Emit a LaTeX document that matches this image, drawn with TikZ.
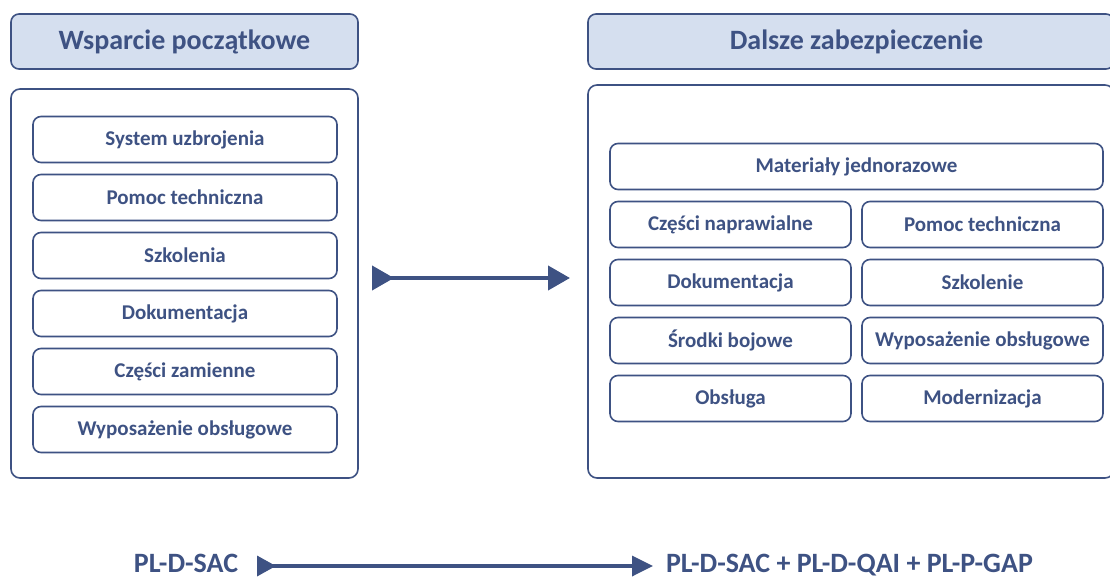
\documentclass[tikz,border=0pt]{standalone}
\usepackage{fontspec}
\setmainfont{Carlito}
\usetikzlibrary{arrows.meta}
\definecolor{dblue}{HTML}{3E5283}
\definecolor{hfill}{HTML}{D5DFEF}
\tikzset{
  hdr/.style={draw=dblue, line width=1.6pt, fill=hfill, rounded corners=8pt, inner sep=0pt,
    text=dblue, font=\bfseries\fontsize{28}{31}\selectfont},
  outer/.style={draw=dblue, line width=1.6pt, fill=white, rounded corners=9pt, inner sep=0pt},
  item/.style={draw=dblue, line width=1.6pt, fill=white, rounded corners=8pt, inner sep=0pt,
    minimum height=46pt, text=dblue, font=\bfseries\fontsize{21}{24}\selectfont},
  lbl/.style={text=dblue, font=\bfseries\fontsize{28}{31}\selectfont, inner sep=0pt, anchor=base},
  flow/.style={draw=dblue, line width=4pt,
    {Triangle[reversed,length=22pt,width=24pt]}-{Triangle[length=22pt,width=24pt]}},
  flowb/.style={draw=dblue, line width=3.5pt,
    {Triangle[reversed,length=19pt,width=20pt]}-{Triangle[length=21pt,width=20pt]}}
}
\begin{document}
\begin{tikzpicture}[x=1pt,y=-1pt]
\useasboundingbox (0,0) rectangle (1110,577);
% left column
\node[hdr, minimum width=347pt, minimum height=55pt] (lh) at (184.5,41.5) {Wsparcie początkowe};
\node[outer, minimum width=347pt, minimum height=389pt] (lo) at (184.5,283.5) {};
\node[item, minimum width=304pt] (l1) at (185,139.5) {System uzbrojenia};
\node[item, minimum width=304pt] (l2) at (185,197.5) {Pomoc techniczna};
\node[item, minimum width=304pt] (l3) at (185,255.5) {Szkolenia};
\node[item, minimum width=304pt] (l4) at (185,313.5) {Dokumentacja};
\node[item, minimum width=304pt] (l5) at (185,371.5) {Części zamienne};
\node[item, minimum width=304pt] (l6) at (185,429.5) {Wyposażenie obsługowe};
% right column
\node[hdr, minimum width=526pt, minimum height=55pt] (rh) at (851,41.5) {};
\node[text=dblue, font=\bfseries\fontsize{28}{31}\selectfont, inner sep=0pt] (rht) at (856.5,41.5) {Dalsze zabezpieczenie};
\node[outer, minimum width=526pt, minimum height=393pt] (ro) at (851,281.5) {};
\node[item, minimum width=493pt] (r0) at (856.5,166.5) {Materiały jednorazowe};
\node[item, minimum width=241pt] (r1) at (730.5,224.5) {Części naprawialne};
\node[item, minimum width=241pt] (r2) at (982.5,224.5) {Pomoc techniczna};
\node[item, minimum width=241pt] (r3) at (730.5,282.5) {Dokumentacja};
\node[item, minimum width=241pt] (r4) at (982.5,282.5) {Szkolenie};
\node[item, minimum width=241pt] (r5) at (730.5,340.5) {Środki bojowe};
\node[item, minimum width=241pt] (r6) at (982.5,340.5) {Wyposażenie obsługowe};
\node[item, minimum width=241pt] (r7) at (730.5,398.5) {Obsługa};
\node[item, minimum width=241pt] (r8) at (982.5,398.5) {Modernizacja};
% middle arrow
\coordinate (ma) at (372,278);
\coordinate (mb) at (570,278);
\draw[flow] (ma) -- (mb);
% bottom
\node[lbl] (bl) at (186,572) {PL-D-SAC};
\node[lbl] (br) at (849.5,572) {PL-D-SAC + PL-D-QAI + PL-P-GAP};
\coordinate (ba) at (257,566);
\coordinate (bb) at (653,566);
\draw[flowb] (ba) -- (bb);
\end{tikzpicture}
\end{document}
